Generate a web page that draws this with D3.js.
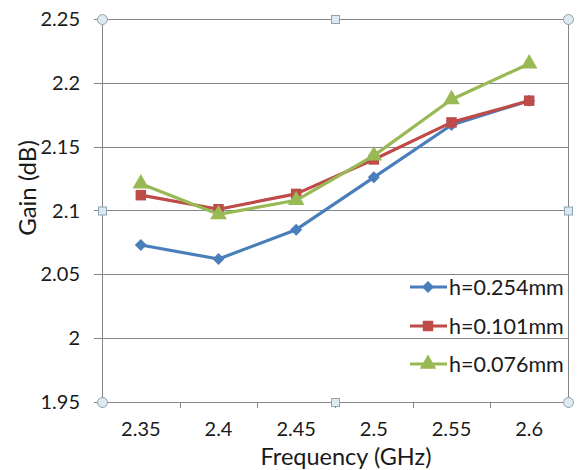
<!DOCTYPE html>
<html>
<head>
<meta charset="utf-8">
<script src="https://cdn.jsdelivr.net/npm/d3@7"></script>
<style>
  html, body { margin: 0; padding: 0; background: #fff; }
  svg { display: block; }
  text { font-family: Lato, "Open Sans", sans-serif; fill: #1a1a1a; }
</style>
</head>
<body>
<svg id="chart" width="578" height="470"></svg>
<script>
// Frequency categories (GHz)
const frequencies = ["2.35", "2.4", "2.45", "2.5", "2.55", "2.6"];
// Gain (dB) per substrate thickness
const gain254 = [2.073, 2.062, 2.085, 2.126, 2.167, 2.186];
const gain101 = [2.112, 2.101, 2.113, 2.140, 2.169, 2.186];
const gain076 = [2.121, 2.097, 2.108, 2.143, 2.187, 2.215];
const seriesNames = ["h=0.254mm", "h=0.101mm", "h=0.076mm"];
const yTicks = [1.95, 2, 2.05, 2.1, 2.15, 2.2, 2.25];

const series = [
  { name: seriesNames[0], values: gain254, color: "#4a7ebb", marker: "diamond" },
  { name: seriesNames[1], values: gain101, color: "#be4b48", marker: "square" },
  { name: seriesNames[2], values: gain076, color: "#98b954", marker: "triangle" }
];

const svg = d3.select("#chart");
const plot = { left: 102, right: 568, top: 19, bottom: 402 };

const x = d3.scaleBand().domain(frequencies).range([plot.left, plot.right]).padding(0);
const y = d3.scaleLinear().domain([1.95, 2.25]).range([plot.bottom, plot.top]);

const axisColor = "#868686";

// Horizontal gridlines with short outward ticks
svg.append("g")
  .selectAll("line")
  .data(yTicks)
  .join("line")
  .attr("x1", plot.left - 8).attr("x2", plot.right)
  .attr("y1", d => Math.round(y(d)) + 0.5).attr("y2", d => Math.round(y(d)) + 0.5)
  .attr("stroke", axisColor).attr("stroke-width", 1);

// Y tick labels
svg.append("g")
  .selectAll("text")
  .data(yTicks)
  .join("text")
  .attr("x", plot.left - 22)
  .attr("y", d => y(d))
  .attr("dy", "0.35em")
  .attr("text-anchor", "end")
  .attr("font-size", 20)
  .text(d => d3.format("~g")(d));

// Plot frame: left and right vertical lines
svg.append("line")
  .attr("x1", plot.left + 0.5).attr("x2", plot.left + 0.5)
  .attr("y1", plot.top).attr("y2", plot.bottom)
  .attr("stroke", axisColor);
svg.append("line")
  .attr("x1", plot.right + 0.5).attr("x2", plot.right + 0.5)
  .attr("y1", plot.top).attr("y2", plot.bottom)
  .attr("stroke", axisColor);

// Category boundary ticks on the x axis
const boundaries = frequencies.map(f => x(f)).concat([plot.right]);
svg.append("g")
  .selectAll("line")
  .data(boundaries)
  .join("line")
  .attr("x1", d => Math.round(d) + 0.5).attr("x2", d => Math.round(d) + 0.5)
  .attr("y1", plot.bottom).attr("y2", plot.bottom + 6)
  .attr("stroke", axisColor);

// X tick labels
svg.append("g")
  .selectAll("text")
  .data(frequencies)
  .join("text")
  .attr("x", d => x(d) + x.bandwidth() / 2)
  .attr("y", 436)
  .attr("text-anchor", "middle")
  .attr("font-size", 20)
  .text(d => d);

// Axis titles
svg.append("text")
  .attr("x", 346).attr("y", 465)
  .attr("text-anchor", "middle")
  .attr("font-size", 23.5)
  .text("Frequency (GHz)");
svg.append("text")
  .attr("transform", "translate(36,188) rotate(-90)")
  .attr("text-anchor", "middle")
  .attr("font-size", 24)
  .text("Gain (dB)");

// Marker shapes
const symbolFor = {
  diamond: d3.symbol().type(d3.symbolSquare).size(72),
  square: d3.symbol().type(d3.symbolSquare).size(110),
  triangle: d3.symbol().type(d3.symbolTriangle).size(120)
};
const rotateFor = { diamond: 45, square: 0, triangle: 0 };

const line = d3.line()
  .x((d, i) => x(frequencies[i]) + x.bandwidth() / 2)
  .y(d => y(d));

const gSeries = svg.append("g");
series.forEach(s => {
  gSeries.append("path")
    .attr("d", line(s.values))
    .attr("fill", "none")
    .attr("stroke", s.color)
    .attr("stroke-width", 3.2)
    .attr("stroke-linejoin", "round");
  gSeries.append("g")
    .selectAll("path")
    .data(s.values)
    .join("path")
    .attr("transform", (d, i) => `translate(${x(frequencies[i]) + x.bandwidth() / 2},${y(d)}) rotate(${rotateFor[s.marker]})`)
    .attr("d", symbolFor[s.marker])
    .attr("fill", s.color);
});

// Legend
const legendRows = [287, 326, 364];
const legend = svg.append("g");
series.forEach((s, i) => {
  const ly = legendRows[i];
  legend.append("line")
    .attr("x1", 410).attr("x2", 447)
    .attr("y1", ly).attr("y2", ly)
    .attr("stroke", s.color).attr("stroke-width", 3.2);
  legend.append("path")
    .attr("transform", `translate(428,${ly}) rotate(${rotateFor[s.marker]})`)
    .attr("d", symbolFor[s.marker])
    .attr("fill", s.color);
  legend.append("text")
    .attr("x", 449).attr("y", ly)
    .attr("dy", "0.35em")
    .attr("font-size", 21.5)
    .text(s.name);
});

// Selection handles on the plot area
const handleFill = "#dde9ee", handleStroke = "#89a6b5";
const corners = [[plot.left, plot.top], [plot.right, plot.top], [plot.left, plot.bottom], [plot.right, plot.bottom]];
const mids = [[(plot.left + plot.right) / 2, plot.top], [(plot.left + plot.right) / 2, plot.bottom],
              [plot.left, (plot.top + plot.bottom) / 2], [plot.right, (plot.top + plot.bottom) / 2]];
svg.append("g").selectAll("circle").data(corners).join("circle")
  .attr("cx", d => d[0] + 0.5).attr("cy", d => d[1] + 0.5).attr("r", 5)
  .attr("fill", handleFill).attr("stroke", handleStroke);
svg.append("g").selectAll("rect").data(mids).join("rect")
  .attr("x", d => d[0] - 3.5).attr("y", d => d[1] - 3.5)
  .attr("width", 8).attr("height", 8)
  .attr("fill", handleFill).attr("stroke", handleStroke);
</script>
</body>
</html>
